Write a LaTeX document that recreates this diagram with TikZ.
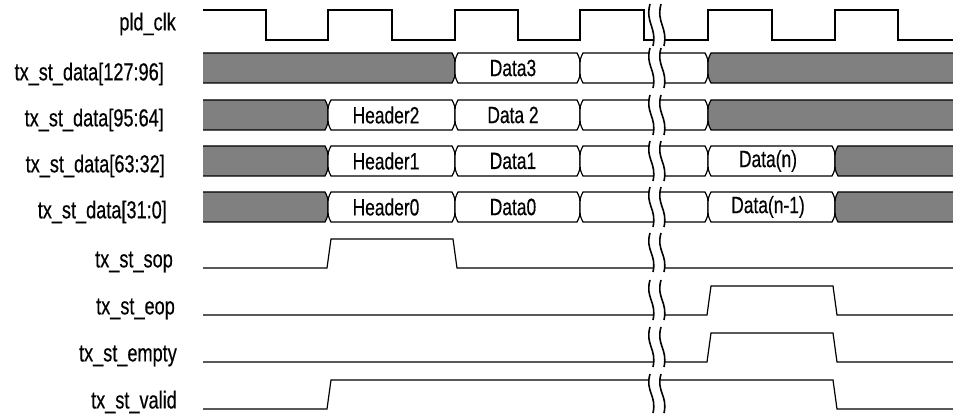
\documentclass[tikz,border=0pt]{standalone}
\usepackage{fontspec}
\setmainfont{Liberation Sans}[FakeStretch=0.74,FakeBold=0.4]
\definecolor{busgrey}{HTML}{808080}
\newcommand\busseg[5]{% a, b, top, bottom, fill
  \filldraw[sig, fill=#5] (#1,{(#3+#4)/2}) .. controls (#1,{#3+6}) .. (#1+3,#3) -- (#2-3,#3) .. controls (#2,{#3+6}) .. (#2,{(#3+#4)/2}) .. controls (#2,{#4-6}) .. (#2-3,#4) -- (#1+3,#4) .. controls (#1,{#4-6}) .. cycle;}
\newcommand\busleft[4]{% b, top, bottom, fill
  \filldraw[sig, fill=#4] (203,#2) -- (#1-3,#2) .. controls (#1,{#2+6}) .. (#1,{(#2+#3)/2}) .. controls (#1,{#3-6}) .. (#1-3,#3) -- (203,#3);}
\newcommand\busright[4]{% a, top, bottom, fill
  \filldraw[sig, fill=#4] (953,#2) -- (#1+3,#2) .. controls (#1,{#2+6}) .. (#1,{(#2+#3)/2}) .. controls (#1,{#3-6}) .. (#1+3,#3) -- (953,#3);}
\newcommand\brkmark[2]{% top, bottom
  \fill[white] (650,#1) .. controls (645,{#1+0.45*(#2-#1)}) and (657,{#2-0.45*(#2-#1)}) .. (653,#2)
     -- (664,#2) .. controls (668,{#2-0.45*(#2-#1)}) and (656,{#1+0.45*(#2-#1)}) .. (661,#1) -- cycle;
  \draw[brk] (650,#1) .. controls (645,{#1+0.45*(#2-#1)}) and (657,{#2-0.45*(#2-#1)}) .. (653,#2);
  \draw[brk] (661,#1) .. controls (656,{#1+0.45*(#2-#1)}) and (668,{#2-0.45*(#2-#1)}) .. (664,#2);}
\begin{document}
\begin{tikzpicture}[x=1pt,y=-1pt,
  sig/.style={line width=1.2pt, line join=miter, draw=black},
  brk/.style={line width=1.6pt, black},
  lbl/.style={anchor=east, inner sep=0pt, font=\fontsize{24.5}{24.5}\selectfont},
  txt/.style={inner sep=0pt, font=\fontsize{23.5}{23.5}\selectfont}]
\useasboundingbox (0,0) rectangle (953,414);
% bus row 1
\busleft{455}{53}{83}{busgrey}
\busseg{455}{580}{53}{83}{white}
\busseg{580}{708}{53}{83}{white}
\busright{708}{53}{83}{busgrey}
% bus row 2
\busleft{328}{100}{130}{busgrey}
\busseg{328}{455}{100}{130}{white}
\busseg{455}{580}{100}{130}{white}
\busseg{580}{708}{100}{130}{white}
\busright{708}{100}{130}{busgrey}
% bus row 3
\busleft{328}{146}{176}{busgrey}
\busseg{328}{455}{146}{176}{white}
\busseg{455}{580}{146}{176}{white}
\busseg{580}{708}{146}{176}{white}
\busseg{708}{835}{146}{176}{white}
\busright{835}{146}{176}{busgrey}
% bus row 4
\busleft{328}{192}{222}{busgrey}
\busseg{328}{455}{192}{222}{white}
\busseg{455}{580}{192}{222}{white}
\busseg{580}{708}{192}{222}{white}
\busseg{708}{835}{192}{222}{white}
\busright{835}{192}{222}{busgrey}
% clock
\draw[sig] (203,10) -- (266,10) -- (266,40) -- (328,40) -- (328,10) -- (392,10) -- (392,40) -- (455,40) -- (455,10) -- (518,10) -- (518,40) -- (580,40) -- (580,10) -- (644,10) -- (644,40) -- (708,40) -- (708,10) -- (772,10) -- (772,40) -- (835,40) -- (835,10) -- (898,10) -- (898,40) -- (953,40);
% control signals
\draw[sig] (203,268) -- (327,268) -- (331,239) -- (453,239) -- (457,268) -- (953,268);
\draw[sig] (203,315) -- (707,315) -- (711,286) -- (833,286) -- (837,315) -- (953,315);
\draw[sig] (203,362) -- (707,362) -- (711,333) -- (833,333) -- (837,362) -- (953,362);
\draw[sig] (203,409) -- (327,409) -- (331,380) -- (833,380) -- (837,409) -- (953,409);
% breaks
\brkmark{4}{46}
\brkmark{48}{88}
\brkmark{95}{135}
\brkmark{141}{181}
\brkmark{187}{227}
\brkmark{233}{272}
\brkmark{280}{320}
\brkmark{327}{367}
\brkmark{374}{413}
% bus texts
\node[txt] (d3) at (513,68) {Data3};
\node[txt] (h2) at (386,115) {Header2};
\node[txt] (d2) at (513,115) {Data 2};
\node[txt] (h1) at (386,161) {Header1};
\node[txt] (d1) at (513,161) {Data1};
\node[txt] (dn) at (768,161) {Data(n)};
\node[txt] (h0) at (386,207) {Header0};
\node[txt] (d0) at (513,207) {Data0};
\node[txt] (dn1) at (768,207) {Data(n-1)};
% labels
\node[lbl] (lclk) at (176,24) {pld\_clk};
\node[lbl] (l1) at (164,74) {tx\_st\_data[127:96]};
\node[lbl] (l2) at (164,120) {tx\_st\_data[95:64]};
\node[lbl] (l3) at (165,166) {tx\_st\_data[63:32]};
\node[lbl] (l4) at (167,212) {tx\_st\_data[31:0]};
\node[lbl] (lsop) at (173,262) {tx\_st\_sop};
\node[lbl] (leop) at (175,309) {tx\_st\_eop};
\node[lbl] (lempty) at (177,356) {tx\_st\_empty};
\node[lbl] (lvalid) at (177,402) {tx\_st\_valid};
\end{tikzpicture}
\end{document}
